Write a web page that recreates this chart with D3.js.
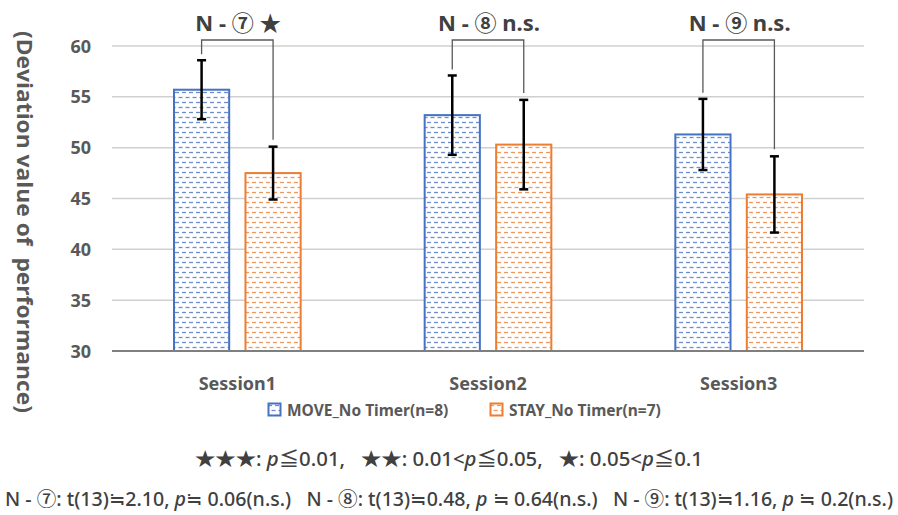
<!DOCTYPE html>
<html>
<head>
<meta charset="utf-8">
<script src="https://cdn.jsdelivr.net/npm/d3@7"></script>
<style>
  body { margin: 0; background: #fff; }
  svg { display: block; }
  text { white-space: pre; }
</style>
</head>
<body>
<div id="chart"></div>
<script>
const categories = ["Session1", "Session2", "Session3"];
const moveMeans = [55.7, 53.2, 51.3];
const moveErr = [2.9, 3.9, 3.5];
const stayMeans = [47.5, 50.3, 45.4];
const stayErr = [2.6, 4.4, 3.75];
const seriesNames = ["MOVE_No Timer(n=8)", "STAY_No Timer(n=7)"];
const compareLabels = ["N - ⑦ ★", "N - ⑧ n.s.", "N - ⑨ n.s."];
const yTicks = [30, 35, 40, 45, 50, 55, 60];

const W = 898, H = 515;
const colors = ["#4472C4", "#ED7D31"];
const textColor = "#595959";
const font = "'Noto Sans', 'Noto Sans CJK JP', sans-serif";

const svg = d3.select("#chart").append("svg").attr("width", W).attr("height", H);

// === Patterns (dashed fill) ===
const defs = svg.append("defs");
colors.forEach((c, i) => {
  const p = defs.append("pattern")
    .attr("id", "pat" + i)
    .attr("patternUnits", "userSpaceOnUse")
    .attr("width", 7).attr("height", 10);
  p.append("rect").attr("width", 7).attr("height", 10).attr("fill", "#fff");
  p.append("line").attr("x1", 0).attr("x2", 4).attr("y1", 2.5).attr("y2", 2.5)
    .attr("stroke", c).attr("stroke-width", 1.3).attr("opacity", 0.8);
  p.append("line").attr("x1", 3.5).attr("x2", 7.5).attr("y1", 7.5).attr("y2", 7.5)
    .attr("stroke", c).attr("stroke-width", 1.3).attr("opacity", 0.8);
  p.append("line").attr("x1", -0.5).attr("x2", 0.5).attr("y1", 7.5).attr("y2", 7.5)
    .attr("stroke", c).attr("stroke-width", 1.3).attr("opacity", 0.8);
});

const x0 = d3.scaleBand().domain(categories).range([112, 864]);
const x1 = d3.scaleBand().domain([0, 1]).range([61, x0.bandwidth() - 61]).paddingInner(0.2);
const y = d3.scaleLinear().domain([30, 60]).range([351, 46]);

// === Grid ===
svg.append("g").selectAll("line")
  .data(yTicks.slice(1))
  .join("line")
  .attr("x1", 112).attr("x2", 864)
  .attr("y1", d => y(d)).attr("y2", d => y(d))
  .attr("stroke", "#d0d0d0").attr("stroke-width", 1.5);

// y tick labels
svg.append("g").selectAll("text")
  .data(yTicks)
  .join("text")
  .attr("x", 91).attr("y", d => y(d) + 6.5)
  .attr("text-anchor", "end")
  .style("font-family", font).style("font-weight", "bold").style("font-size", "18px")
  .style("fill", textColor)
  .text(d => d);

// === Bars ===
const groups = [
  { means: moveMeans, errs: moveErr },
  { means: stayMeans, errs: stayErr }
];
const bars = [];
categories.forEach((cat, ci) => {
  groups.forEach((g, si) => {
    bars.push({ cat, ci, si, v: g.means[ci], e: g.errs[ci] });
  });
});

svg.append("g").selectAll("rect")
  .data(bars)
  .join("rect")
  .attr("x", d => x0(d.cat) + x1(d.si) + 1)
  .attr("y", d => y(d.v))
  .attr("width", x1.bandwidth() - 2)
  .attr("height", d => y(30) - y(d.v))
  .attr("fill", d => `url(#pat${d.si})`)
  .attr("stroke", d => colors[d.si])
  .attr("stroke-width", 2);

// axis baseline
svg.append("line")
  .attr("x1", 112).attr("x2", 864)
  .attr("y1", y(30)).attr("y2", y(30))
  .attr("stroke", "#7f7f7f").attr("stroke-width", 2);

// === Error bars ===
const cx = d => x0(d.cat) + x1(d.si) + x1.bandwidth() / 2;
const eb = svg.append("g").attr("stroke", "#000").attr("stroke-width", 2.5);
bars.forEach(d => {
  eb.append("line").attr("x1", cx(d)).attr("x2", cx(d))
    .attr("y1", y(d.v + d.e)).attr("y2", y(d.v - d.e));
  [d.v + d.e, d.v - d.e].forEach(v => {
    eb.append("line").attr("x1", cx(d) - 4.5).attr("x2", cx(d) + 4.5)
      .attr("y1", y(v)).attr("y2", y(v));
  });
});

// === Comparison brackets ===
categories.forEach((cat, ci) => {
  const a = bars.find(b => b.ci === ci && b.si === 0);
  const b = bars.find(b => b.ci === ci && b.si === 1);
  const top = 40;
  svg.append("path")
    .attr("d", `M${cx(a)},${y(a.v + a.e) - 6}V${top}H${cx(b)}V${y(b.v + b.e) - 7}`)
    .attr("fill", "none").attr("stroke", "#595959").attr("stroke-width", 1.3);
  svg.append("text")
    .attr("x", (cx(a) + cx(b)) / 2 + 1).attr("y", 31)
    .attr("text-anchor", "middle")
    .style("font-family", font).style("font-weight", "bold").style("font-size", "22px")
    .style("fill", "#404040")
    .text(compareLabels[ci]);
});

// category labels
svg.append("g").selectAll("text")
  .data(categories)
  .join("text")
  .attr("x", d => x0(d) + x0.bandwidth() / 2)
  .attr("y", 390)
  .attr("text-anchor", "middle")
  .style("font-family", font).style("font-weight", "bold").style("font-size", "18px")
  .style("fill", textColor)
  .text(d => d);

// y-axis title
svg.append("text")
  .attr("transform", "translate(17, 31) rotate(90)")
  .attr("textLength", 382).attr("lengthAdjust", "spacingAndGlyphs")
  .style("font-family", "'Open Sans', 'Noto Sans', sans-serif")
  .style("font-weight", "bold").style("font-size", "22px")
  .style("fill", textColor)
  .text("(Deviation value of  performance)");

// === Legend ===
const legendX = [268, 490];
seriesNames.forEach((name, i) => {
  const g = svg.append("g").attr("transform", `translate(${legendX[i]}, 403)`);
  g.append("rect").attr("x", 0.5).attr("y", 0.5).attr("width", 12).attr("height", 12)
    .attr("fill", `url(#pat${i})`).attr("stroke", colors[i]).attr("stroke-width", 2);
  g.append("text").attr("x", 19).attr("y", 12.5)
    .style("font-family", font).style("font-weight", "bold").style("font-size", "15.5px")
    .style("fill", textColor)
    .text(name);
});

// === Notes ===
const noteFont = "'Noto Sans', 'Noto Sans CJK JP', sans-serif";
const note1 = svg.append("text")
  .attr("x", 195).attr("y", 466)
  .attr("textLength", 508).attr("lengthAdjust", "spacingAndGlyphs")
  .style("font-family", noteFont).style("font-weight", 500)
  .style("font-size", "19px").style("fill", "#404040");
note1.append("tspan").text("★★★: ");
note1.append("tspan").style("font-style", "italic").text("p");
note1.append("tspan").text("≦0.01,   ★★: 0.01<");
note1.append("tspan").style("font-style", "italic").text("p");
note1.append("tspan").text("≦0.05,   ★: 0.05<");
note1.append("tspan").style("font-style", "italic").text("p");
note1.append("tspan").text("≦0.1");

const note2 = svg.append("text")
  .attr("x", 5).attr("y", 506)
  .attr("textLength", 888).attr("lengthAdjust", "spacingAndGlyphs")
  .style("font-family", noteFont).style("font-weight", 500)
  .style("font-size", "19px").style("fill", "#404040");
note2.append("tspan").text("N - ⑦: t(13)≒2.10, ");
note2.append("tspan").style("font-style", "italic").text("p");
note2.append("tspan").text("≒ 0.06(n.s.)   N - ⑧: t(13)≒0.48, ");
note2.append("tspan").style("font-style", "italic").text("p");
note2.append("tspan").text(" ≒ 0.64(n.s.)   N - ⑨: t(13)≒1.16, ");
note2.append("tspan").style("font-style", "italic").text("p");
note2.append("tspan").text(" ≒ 0.2(n.s.)");
</script>
</body>
</html>
